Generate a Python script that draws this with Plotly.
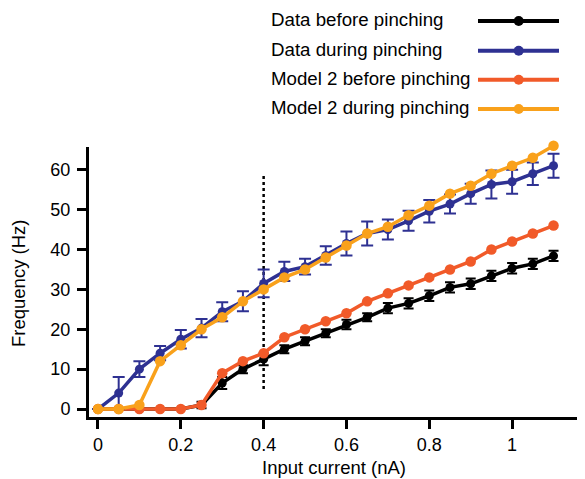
import plotly.graph_objects as go

# ---------------- data ----------------
current_nA = [0, 0.05, 0.1, 0.15, 0.2, 0.25, 0.3, 0.35, 0.4, 0.45, 0.5, 0.55,
              0.6, 0.65, 0.7, 0.75, 0.8, 0.85, 0.9, 0.95, 1.0, 1.05, 1.1]

data_before = [0, 0, 0, 0, 0, 1, 6.5, 10, 12.5, 15, 17, 19,
               21.2, 23, 25.3, 26.5, 28.4, 30.5, 31.4, 33.4, 35.3, 36.4, 38.4]
data_before_err = [0, 0, 0, 0, 0, 0.8, 1.5, 1, 1.5, 1, 1, 1,
                   1.2, 1, 1.3, 1.3, 1.3, 1.3, 1.3, 1.3, 1.3, 1.3, 1.3]

data_during = [0, 4, 10, 14, 17.5, 20.3, 24.4, 27, 31.5, 34.5, 35.7, 38.5,
               41.5, 44, 45, 47.2, 49.6, 51.4, 54, 56.3, 57, 59, 61]
data_during_err = [0, 4, 2, 1.8, 2.3, 2.3, 2.4, 2.5, 3.5, 2.4, 2, 2.3,
                   3, 3, 2.5, 2.5, 2.8, 2.4, 2.5, 3.5, 3, 2.8, 3]

model_before = [0, 0, 0, 0, 0, 1, 9, 12, 14, 18, 20, 22,
                24, 27, 29, 31, 33, 35, 37, 40, 42, 44, 46]
model_during = [0, 0, 1, 12, 16, 20, 23, 27, 30, 33, 35, 38,
                41, 44, 45.7, 48.6, 51, 54, 56, 59, 61, 63, 66]

series_names = ["Data before pinching", "Data during pinching",
                "Model 2 before pinching", "Model 2 during pinching"]
colors = ["#000000", "#2E3192", "#F15A29", "#F9A11B"]

x_ticks = [0, 0.2, 0.4, 0.6, 0.8, 1]
x_ticklabels = ["0", "0.2", "0.4", "0.6", "0.8", "1"]
y_ticks = [0, 10, 20, 30, 40, 50, 60]

x_title = "Input current (nA)"
y_title = "Frequency (Hz)"

pinch_current = 0.4
pinch_line_span = [5, 58.5]

FONT = "Liberation Sans, Arial, Helvetica, sans-serif"

# The page body has an 8px margin, so the figure is drawn 8px smaller and
# everything is expressed in page pixels minus that offset.
OFF = 8
FIG_W, FIG_H = 585 - OFF, 479 - OFF
PLOT_L, PLOT_R, PLOT_B = 89, 585, 417      # page pixels
SPINE_T = 147                              # page pixel where the y spine ends
Y_MIN, Y_SPINE_MAX, Y_MAX = -2.0, 65.7, 67.5
scale = (PLOT_B - SPINE_T) / (Y_SPINE_MAX - Y_MIN)
PLOT_T = PLOT_B - scale * (Y_MAX - Y_MIN)

M_L = PLOT_L - OFF
M_B = FIG_H - (PLOT_B - OFF)
H_PLOT = PLOT_B - OFF          # t = 0
W_PLOT = PLOT_R - PLOT_L

def px(page_x):
    return (page_x - PLOT_L) / W_PLOT

def py(page_y):
    return (PLOT_B - page_y) / H_PLOT

fig = go.Figure()

# dotted reference line
fig.add_trace(go.Scatter(
    x=[pinch_current, pinch_current], y=pinch_line_span, mode="lines",
    line=dict(color="black", width=2.5, dash="3px,3px"),
    hoverinfo="skip", showlegend=False))

# Data before pinching
fig.add_trace(go.Scatter(
    x=current_nA, y=data_before, mode="lines+markers", name=series_names[0],
    line=dict(color=colors[0], width=3.5), marker=dict(size=9, color=colors[0]),
    error_y=dict(type="data", array=data_before_err, visible=True,
                 color=colors[0], thickness=2, width=5)))

# Model 2 before pinching
fig.add_trace(go.Scatter(
    x=current_nA, y=model_before, mode="lines+markers", name=series_names[2],
    line=dict(color=colors[2], width=3.5), marker=dict(size=10.5, color=colors[2])))

# Data during pinching
fig.add_trace(go.Scatter(
    x=current_nA, y=data_during, mode="lines+markers", name=series_names[1],
    line=dict(color=colors[1], width=3.5), marker=dict(size=9, color=colors[1]),
    error_y=dict(type="data", array=data_during_err, visible=True,
                 color=colors[1], thickness=2, width=6)))

# Model 2 during pinching
fig.add_trace(go.Scatter(
    x=current_nA, y=model_during, mode="lines+markers", name=series_names[3],
    line=dict(color=colors[3], width=3.5), marker=dict(size=10.5, color=colors[3])))

# ---------------- custom legend (text left, key right) ----------------
legend_rows_y = [21, 50.7, 79.7, 109]   # page pixels
key_x = [478, 559]
key_mid = 518.7
text_x = 269
LEG_DOM = 0.7
leg_top_page = OFF
leg_bot_page = OFF + (1 - LEG_DOM) * H_PLOT
for name, col, ry in zip(series_names, colors, legend_rows_y):
    fig.add_trace(go.Scatter(
        x=key_x, y=[ry, ry], mode="lines", xaxis="x2", yaxis="y2",
        line=dict(color=col, width=4), hoverinfo="skip", showlegend=False))
    fig.add_trace(go.Scatter(
        x=[key_mid], y=[ry], mode="markers", xaxis="x2", yaxis="y2",
        marker=dict(color=col, size=10), hoverinfo="skip", showlegend=False))
    fig.add_annotation(
        x=text_x, y=ry - 1.5, xref="x2", yref="y2", text=name, showarrow=False,
        xanchor="left", yanchor="middle",
        font=dict(family=FONT, size=18.7, color="black"))

# axis titles
fig.add_annotation(x=px(334), y=py(467), xref="paper", yref="paper",
                   text=x_title, showarrow=False, xanchor="center", yanchor="middle",
                   font=dict(family=FONT, size=18.5, color="black"))
fig.add_annotation(x=px(18), y=py(284), xref="paper", yref="paper",
                   text=y_title, showarrow=False, xanchor="center", yanchor="middle",
                   textangle=-90, font=dict(family=FONT, size=18.5, color="black"))

# y spine (ends at 65.7 while the range extends a bit higher so the top marker shows)
fig.add_shape(type="line", xref="paper", yref="paper",
              x0=px(PLOT_L - 1.5), x1=px(PLOT_L - 1.5), y0=py(PLOT_B + 3), y1=py(SPINE_T),
              line=dict(color="black", width=3), layer="above")

fig.update_layout(
    width=FIG_W, height=FIG_H,
    margin=dict(l=M_L, r=0, t=0, b=M_B, pad=0, autoexpand=False),
    paper_bgcolor="white", plot_bgcolor="white",
    showlegend=False,
    font=dict(family=FONT, size=16, color="black"),
    xaxis=dict(
        domain=[0, 1], anchor="y", range=[-0.0217, 1.176], automargin=False,
        tickvals=x_ticks, ticktext=x_ticklabels,
        ticks="outside", ticklen=9, tickwidth=2.5, tickcolor="black",
        showline=True, linewidth=3, linecolor="black",
        showgrid=False, zeroline=False,
        tickfont=dict(family=FONT, size=18),
    ),
    yaxis=dict(
        domain=[0, (PLOT_B - PLOT_T) / H_PLOT], anchor="x", range=[Y_MIN, Y_MAX],
        automargin=False, tickvals=y_ticks,
        ticks="outside", ticklen=11, tickwidth=2.5, tickcolor="black",
        ticklabelstandoff=3,
        showline=False,
        showgrid=False, zeroline=False,
        tickfont=dict(family=FONT, size=18),
    ),
    xaxis2=dict(domain=[0, 1], anchor="y2", range=[PLOT_L, PLOT_R], visible=False,
                fixedrange=True, automargin=False),
    yaxis2=dict(domain=[LEG_DOM, 1], anchor="x2", range=[leg_bot_page, leg_top_page],
                visible=False, fixedrange=True, automargin=False),
)

fig.write_html("out.html")
